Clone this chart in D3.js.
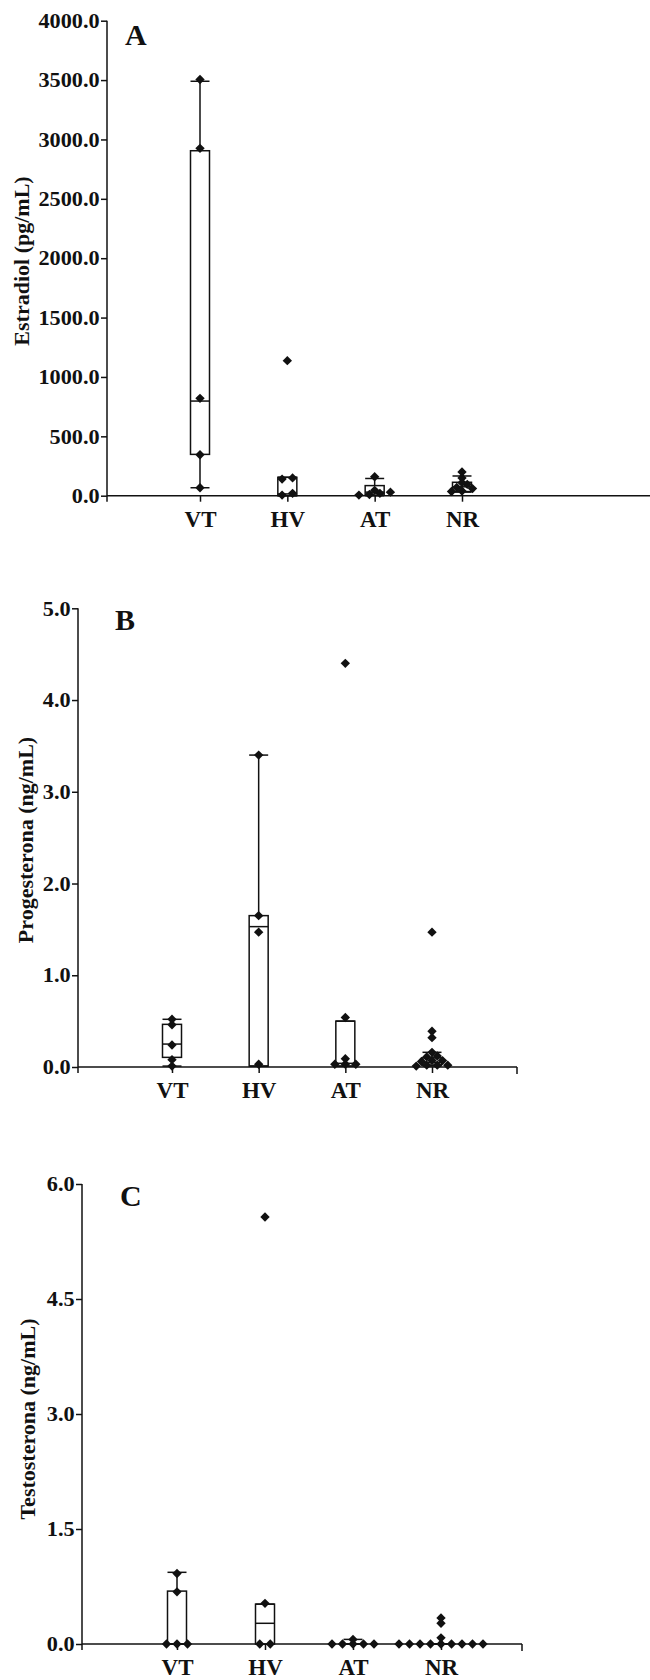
<!DOCTYPE html>
<html>
<head>
<meta charset="utf-8">
<script src="https://cdn.jsdelivr.net/npm/d3@7"></script>
<style>
  body { margin: 0; background: #fff; }
  svg text { font-family: "Liberation Serif", "Times New Roman", serif; font-weight: bold; fill: #111; }
</style>
</head>
<body>
<div id="chart"></div>
<script>
// groups on the x axis
var categories = ["VT", "HV", "AT", "NR"];

// Estradiol (pg/mL): single values per group, box = [min, q1, median, q3, max]
var estradiolPoints = [
  [3505, 2925, 820, 345, 67],
  [1137, 150, 140, 20, 5],
  [160, 45, 30, 20, 10, 5],
  [200, 150, 110, 95, 70, 60, 40, 35]
];
var estradiolBox = [
  [67, 348, 797, 2905, 3490],
  [0, 0, 15, 155, 155],
  [0, 5, 30, 85, 145],
  [30, 35, 75, 113, 166]
];
var estradiolTicks = [0, 500, 1000, 1500, 2000, 2500, 3000, 3500, 4000];

// Progesterona (ng/mL)
var progesteronaPoints = [
  [0.52, 0.46, 0.24, 0.08, 0.01],
  [3.40, 1.65, 1.47, 0.03],
  [4.40, 0.54, 0.09, 0.03, 0.03, 0.03],
  [1.47, 0.39, 0.32, 0.16, 0.12, 0.11, 0.07, 0.07, 0.06, 0.02, 0.02, 0.02, 0.01]
];
var progesteronaBox = [
  [0.01, 0.105, 0.25, 0.465, 0.52],
  [0.01, 0.01, 1.53, 1.65, 3.40],
  [0.01, 0.01, 0.04, 0.50, 0.50],
  [0.01, 0.02, 0.05, 0.10, 0.16]
];
var progesteronaTicks = [0, 1, 2, 3, 4, 5];

// Testosterona (ng/mL)
var testosteronaPoints = [
  [0.92, 0.68, 0, 0, 0],
  [5.57, 0.53, 0, 0],
  [0.06, 0, 0, 0, 0, 0],
  [0.34, 0.27, 0.08, 0, 0, 0, 0, 0, 0, 0, 0, 0]
];
var testosteronaBox = [
  [0, 0, 0, 0.69, 0.935],
  [0, 0, 0.27, 0.52, 0.52],
  [0, 0, 0, 0, 0.06],
  [0, 0, 0, 0, 0]
];
var testosteronaTicks = [0, 1.5, 3.0, 4.5, 6.0];

var panels = [
  { points: estradiolPoints, box: estradiolBox, ticks: estradiolTicks, label: "Estradiol (pg/mL)", letter: "A",
    axisX: 107, axisEnd: 650, yTop: 20.7, yBase: 495.7, catFirst: 200, catLast: 462,
    labelX: 21, labelY: 261, letterX: 125, letterY: 45, endTick: false },
  { points: progesteronaPoints, box: progesteronaBox, ticks: progesteronaTicks, label: "Progesterona (ng/mL)", letter: "B",
    axisX: 78, axisEnd: 517, yTop: 608.3, yBase: 1067, catFirst: 172, catLast: 432,
    labelX: 25, labelY: 840, letterX: 115, letterY: 630, endTick: true },
  { points: testosteronaPoints, box: testosteronaBox, ticks: testosteronaTicks, label: "Testosterona (ng/mL)", letter: "C",
    axisX: 82, axisEnd: 522, yTop: 1184, yBase: 1644, catFirst: 177, catLast: 441,
    labelX: 27, labelY: 1419, letterX: 120, letterY: 1206, endTick: true }
];

var svg = d3.select("#chart").append("svg")
  .attr("width", 650)
  .attr("height", 1680);

var boxW = 19;      // box and cap width
var dotStep = 10.5; // horizontal step between points in one row
var rowGap = 4;     // points closer than this (px) share a row

function swarm(values, y) {
  var sorted = values.slice().sort(function(a, b) { return a - b; });
  var rows = [];
  sorted.forEach(function(v) {
    var row = rows[rows.length - 1];
    if (!row || Math.abs(y(v) - y(row[0])) > rowGap) { rows.push([v]); }
    else { row.push(v); }
  });
  var out = [];
  rows.forEach(function(row) {
    row.forEach(function(v, i) {
      out.push({ v: v, dx: (i - (row.length - 1) / 2) * dotStep });
    });
  });
  return out;
}

function drawPanel(p) {
  var g = svg.append("g");
  var maxTick = p.ticks[p.ticks.length - 1];
  var y = d3.scaleLinear().domain([0, maxTick]).range([p.yBase, p.yTop]);
  var x = d3.scalePoint().domain(categories).range([p.catFirst, p.catLast]);

  // y axis
  var yAxis = g.append("g")
    .attr("transform", "translate(" + p.axisX + ",0)")
    .call(d3.axisLeft(y).tickValues(p.ticks).tickFormat(d3.format(".1f")).tickSize(6).tickSizeOuter(0).tickPadding(1));
  yAxis.select(".domain").remove();
  yAxis.selectAll("text").style("font-size", "21px").attr("fill", "#111").attr("transform", "scale(1.06,1)");
  yAxis.selectAll("line").attr("stroke", "#111").attr("stroke-width", 1.5);
  g.append("line")
    .attr("x1", p.axisX).attr("x2", p.axisX)
    .attr("y1", p.yTop).attr("y2", p.yBase + 6)
    .attr("stroke", "#111").attr("stroke-width", 1.5);

  // x axis
  var xAxis = g.append("g")
    .attr("transform", "translate(0," + p.yBase + ")")
    .call(d3.axisBottom(x).tickSize(6).tickSizeOuter(0).tickPadding(9));
  xAxis.select(".domain").remove();
  xAxis.selectAll("text").style("font-size", "23px").attr("fill", "#111");
  xAxis.selectAll("line").attr("stroke", "#111").attr("stroke-width", 1.5);
  g.append("line")
    .attr("x1", p.axisX).attr("x2", p.axisEnd)
    .attr("y1", p.yBase).attr("y2", p.yBase)
    .attr("stroke", "#111").attr("stroke-width", 1.5);
  if (p.endTick) {
    g.append("line")
      .attr("x1", p.axisEnd).attr("x2", p.axisEnd)
      .attr("y1", p.yBase).attr("y2", p.yBase + 7)
      .attr("stroke", "#111").attr("stroke-width", 1.5);
  }

  // axis title and panel letter
  g.append("text")
    .attr("transform", "translate(" + p.labelX + "," + p.labelY + ") rotate(-90)")
    .attr("text-anchor", "middle")
    .attr("dominant-baseline", "central")
    .style("font-size", "22px")
    .text(p.label);
  g.append("text")
    .attr("x", p.letterX).attr("y", p.letterY)
    .style("font-size", "30px")
    .text(p.letter);

  // boxes with whiskers
  var boxes = g.selectAll(".box").data(p.box).enter().append("g").attr("class", "box");
  boxes.append("line")
    .attr("x1", function(d, i) { return x(categories[i]); })
    .attr("x2", function(d, i) { return x(categories[i]); })
    .attr("y1", function(d) { return y(d[0]); })
    .attr("y2", function(d) { return y(d[4]); })
    .attr("stroke", "#111").attr("stroke-width", 1.5);
  boxes.append("rect")
    .attr("x", function(d, i) { return x(categories[i]) - boxW / 2; })
    .attr("y", function(d) { return y(d[3]); })
    .attr("width", boxW)
    .attr("height", function(d) { return y(d[1]) - y(d[3]); })
    .attr("fill", "#fff").attr("stroke", "#111").attr("stroke-width", 1.5);
  [0, 2, 4].forEach(function(k) {
    boxes.append("line")
      .attr("x1", function(d, i) { return x(categories[i]) - boxW / 2; })
      .attr("x2", function(d, i) { return x(categories[i]) + boxW / 2; })
      .attr("y1", function(d) { return y(d[k]); })
      .attr("y2", function(d) { return y(d[k]); })
      .attr("stroke", "#111").attr("stroke-width", 1.5);
  });

  // points
  var sym = d3.symbol().type(d3.symbolSquare).size(44);
  p.points.forEach(function(vals, i) {
    g.selectAll(".pt" + i).data(swarm(vals, y)).enter().append("path")
      .attr("class", "pt" + i)
      .attr("d", sym)
      .attr("transform", function(d) {
        return "translate(" + (x(categories[i]) + d.dx) + "," + y(d.v) + ") rotate(45)";
      })
      .attr("fill", "#111");
  });
}

panels.forEach(drawPanel);
</script>
</body>
</html>
